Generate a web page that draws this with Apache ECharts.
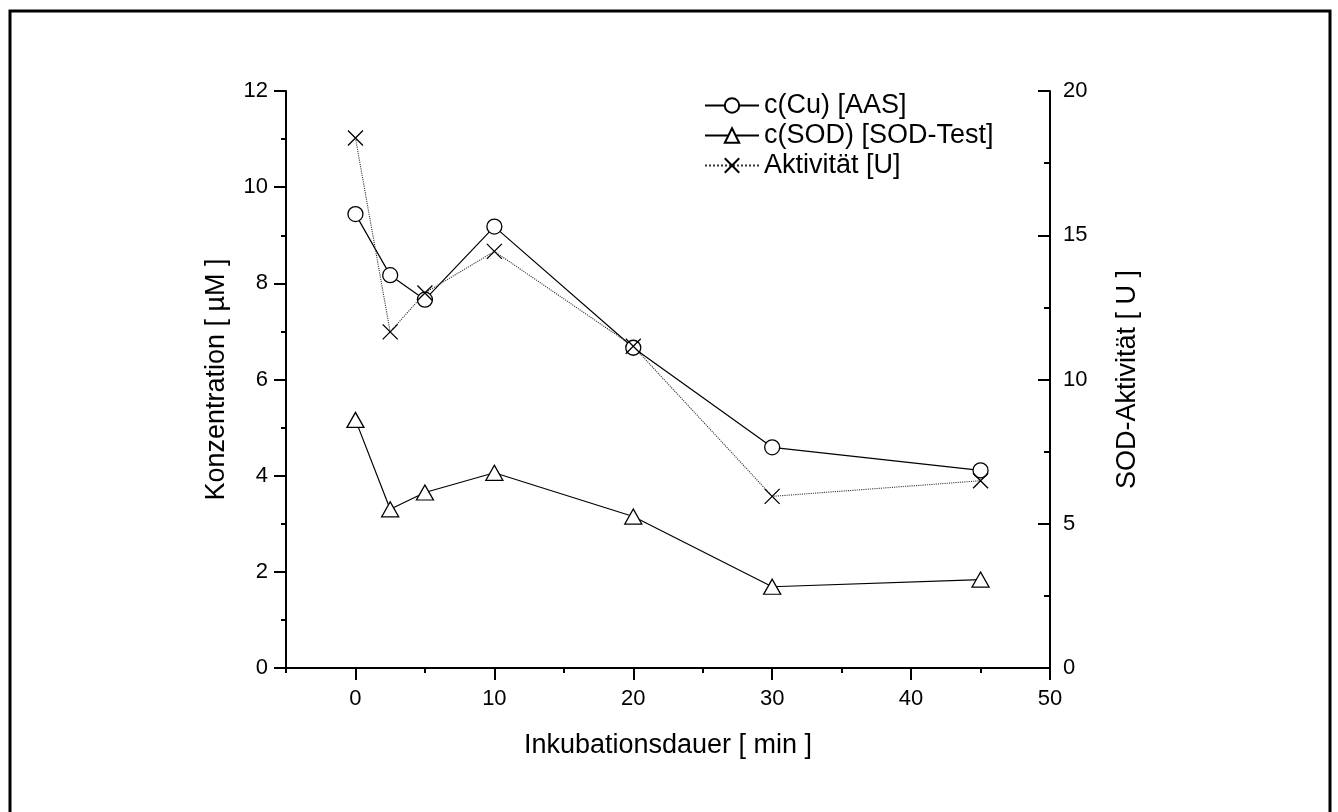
<!DOCTYPE html>
<html>
<head>
<meta charset="utf-8">
<script src="https://cdn.jsdelivr.net/npm/echarts@6/dist/echarts.min.js"></script>
<style>
html,body{margin:0;padding:0;background:#fff;}
#chart{width:1338px;height:812px;}
</style>
</head>
<body>
<div id="chart"></div>
<script>
// ---- data ----
const times = [0, 2.5, 5, 10, 20, 30, 45];
const cuAAS = [9.44, 8.17, 7.66, 9.18, 6.66, 4.59, 4.11];
const sodTest = [5.16, 3.30, 3.65, 4.06, 3.15, 1.69, 1.84];
const activity = [18.37, 11.65, 13.0, 14.44, 11.15, 5.95, 6.49];

const seriesNames = ['c(Cu) [AAS]', 'c(SOD) [SOD-Test]', 'Aktivität [U]'];
const xMajorTicks = [0, 10, 20, 30, 40, 50];
const xTitle = 'Inkubationsdauer [ min ]';
const yLeftTitle = 'Konzentration [ µM ]';
const yRightTitle = 'SOD-Aktivität [ U ]';

const FONT = 'Arial, "Liberation Sans", sans-serif';
const pairs = arr => times.map((t, i) => [t, arr[i]]);

const chart = echarts.init(document.getElementById('chart'), null, {renderer: 'canvas'});
const axisLineStyle = {color: '#000', width: 2};
const labelStyle = {color: '#000', fontSize: 22, fontFamily: FONT};
const nameStyle = {color: '#000', fontSize: 27, fontFamily: FONT};

const option = {
  backgroundColor: '#fff',
  animation: false,
  graphic: [{
    type: 'rect',
    shape: {x: 10, y: 11, width: 1320, height: 900},
    style: {fill: 'none', stroke: '#000', lineWidth: 3},
    silent: true
  }],
  grid: {left: 286, right: 288, top: 91, bottom: 144},
  legend: {
    left: 699, top: 87, orient: 'vertical',
    itemWidth: 54, itemHeight: 18, itemGap: 3,
    textStyle: {color: '#000', fontSize: 27, fontFamily: FONT},
    data: seriesNames
  },
  xAxis: [{
    type: 'value', min: -5, max: 50, interval: 5, position: 'bottom',
    name: xTitle, nameLocation: 'middle', nameGap: 64, nameTextStyle: nameStyle,
    axisLine: {show: true, onZero: false, lineStyle: axisLineStyle},
    axisTick: {show: true, length: 5, lineStyle: axisLineStyle},
    axisLabel: Object.assign({margin: 20, formatter: v => (v >= 0 && v % 10 === 0) ? String(v) : ''}, labelStyle),
    splitLine: {show: false}
  }, {
    type: 'value', min: -5, max: 50, interval: 5, position: 'bottom',
    axisLine: {show: false, onZero: false},
    axisTick: {show: true, length: 12, lineStyle: axisLineStyle, customValues: xMajorTicks},
    axisLabel: {show: false},
    splitLine: {show: false}
  }],
  yAxis: [{
    type: 'value', min: 0, max: 12, interval: 2, position: 'left',
    name: yLeftTitle, nameLocation: 'middle', nameGap: 56, nameRotate: 90, nameTextStyle: nameStyle,
    axisLine: {show: true, onZero: false, lineStyle: axisLineStyle},
    axisTick: {show: true, length: 12, lineStyle: axisLineStyle},
    minorTick: {show: true, splitNumber: 2, length: 5, lineStyle: axisLineStyle},
    axisLabel: Object.assign({margin: 18}, labelStyle),
    splitLine: {show: false}, minorSplitLine: {show: false}
  }, {
    type: 'value', min: 0, max: 20, interval: 5, position: 'right',
    name: yRightTitle, nameLocation: 'middle', nameGap: 64, nameRotate: 90, nameTextStyle: nameStyle,
    axisLine: {show: true, onZero: false, lineStyle: axisLineStyle},
    axisTick: {show: true, inside: true, length: 12, lineStyle: axisLineStyle},
    minorTick: {show: true, splitNumber: 2, length: 6, lineStyle: axisLineStyle},
    axisLabel: Object.assign({margin: 13}, labelStyle),
    splitLine: {show: false}, minorSplitLine: {show: false}
  }],
  series: [{
    name: seriesNames[0], type: 'line', xAxisIndex: 0, yAxisIndex: 0,
    data: pairs(cuAAS),
    symbol: 'circle', symbolSize: 15, showAllSymbol: true,
    lineStyle: {color: '#000', width: 1.2, type: 'solid'},
    itemStyle: {color: '#fff', borderColor: '#000', borderWidth: 1.3},
    emphasis: {disabled: true}
  }, {
    name: seriesNames[1], type: 'line', xAxisIndex: 0, yAxisIndex: 0,
    data: pairs(sodTest),
    symbol: 'triangle', symbolSize: [17, 15], showAllSymbol: true,
    lineStyle: {color: '#000', width: 1.2, type: 'solid'},
    itemStyle: {color: '#fff', borderColor: '#000', borderWidth: 1.3},
    emphasis: {disabled: true}
  }, {
    name: seriesNames[2], type: 'line', xAxisIndex: 0, yAxisIndex: 1,
    data: pairs(activity),
    symbol: 'path://M0,0L10,10M0,10L10,0', symbolSize: 15, showAllSymbol: true,
    lineStyle: {color: '#333', width: 1.1, type: 'dotted'},
    itemStyle: {color: 'rgba(0,0,0,0)', borderColor: '#000', borderWidth: 1.3},
    emphasis: {disabled: true}
  }]
};
chart.setOption(option);
</script>
</body>
</html>
